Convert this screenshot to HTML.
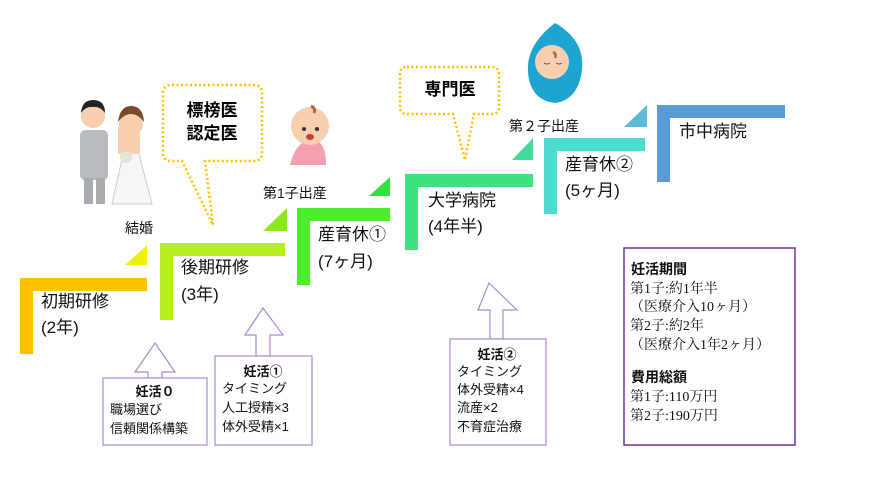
<!DOCTYPE html>
<html><head><meta charset="utf-8"><style>
body{margin:0;background:#fff;}
svg{display:block;font-family:"Liberation Sans","Noto Sans CJK JP",sans-serif;}
</style></head><body>
<svg width="887" height="499" viewBox="0 0 887 499" xmlns="http://www.w3.org/2000/svg">
<rect width="887" height="499" fill="#fff"/>
<!-- steps -->
<path d="M20,278H147V291H33V354H20Z" fill="#FFC000"/>
<polygon points="125,265 147,245 147,265" fill="#F0F010"/>
<path d="M160,243H285V256H173V320H160Z" fill="#B4F01E"/>
<polygon points="263,231 287,208 287,231" fill="#8CE81E"/>
<path d="M297,208H390V221H310V285H297Z" fill="#4CEB2C"/>
<polygon points="369,196 390,177 390,196" fill="#34E040"/>
<path d="M405,174H533V187H418V250H405Z" fill="#3DE27F"/>
<polygon points="512,160 533,138 533,160" fill="#40DCA0"/>
<path d="M544,138H645V151H557V214H544Z" fill="#4DDDD0"/>
<polygon points="624,127 647,105 647,127" fill="#5BBBD5"/>
<path d="M657,105H785V118H670V182H657Z" fill="#5B9BD5"/>
<g font-size="17" fill="#111">
<text x="41" y="307">初期研修</text><text x="41" y="333">(2年)</text>
<text x="181" y="273">後期研修</text><text x="181" y="300">(3年)</text>
<text x="318" y="240">産育休①</text><text x="318" y="267">(7ヶ月)</text>
<text x="428" y="206">大学病院</text><text x="428" y="232">(4年半)</text>
<text x="565" y="170">産育休②</text><text x="565" y="196">(5ヶ月)</text>
<text x="679" y="137">市中病院</text>
</g>
<g font-size="14" fill="#111">
<text x="125" y="233">結婚</text>
<text x="263" y="198">第1子出産</text>
<text x="509" y="131">第２子出産</text>
</g>
<!-- callouts -->
<path d="M172,85H254Q262,85 262,93V153Q262,161 254,161H205L213,225L182,161H171Q163,161 163,153V93Q163,85 172,85Z" fill="#fff" stroke="#FFC000" stroke-width="2.5" stroke-dasharray="2,2.5"/>
<text x="212" y="116" font-size="17" font-weight="bold" text-anchor="middle">標榜医</text>
<text x="212" y="139" font-size="17" font-weight="bold" text-anchor="middle">認定医</text>
<path d="M407,67H492Q499,67 499,74V107Q499,114 492,114H474L465,160L453,114H407Q400,114 400,107V74Q400,67 407,67Z" fill="#fff" stroke="#FFC000" stroke-width="2.5" stroke-dasharray="2,2.5"/>
<text x="450" y="95" font-size="17" font-weight="bold" text-anchor="middle">専門医</text>
<!-- purple arrows & boxes -->
<g fill="#fff" stroke="#A98BD0" stroke-width="1.2">
<path d="M155,343L175,372H162V378H148V372H135Z"/>
<rect x="103" y="378" width="104" height="67"/>
<path d="M263,308L283,335H270V356H256V335H245Z"/>
<rect x="215" y="356" width="97" height="89"/>
<path d="M490,283L518,310H504V339H491V310H479Z" transform="translate(-1,0)"/>
<rect x="450" y="339" width="96" height="106"/>
</g>
<rect x="624" y="248" width="171" height="197" fill="#fff" stroke="#7030A0" stroke-width="1.5"/>
<g font-size="13" fill="#111">
<text x="155" y="396" font-weight="bold" text-anchor="middle">妊活０</text>
<text x="110" y="414">職場選び</text><text x="110" y="433">信頼関係構築</text>
<text x="263" y="376" font-weight="bold" text-anchor="middle">妊活①</text>
<text x="222" y="393">タイミング</text><text x="222" y="412">人工授精×3</text><text x="222" y="431">体外受精×1</text>
<text x="497" y="359" font-weight="bold" text-anchor="middle">妊活②</text>
<text x="457" y="376">タイミング</text><text x="457" y="394">体外受精×4</text><text x="457" y="412">流産×2</text><text x="457" y="431">不育症治療</text>
</g>
<g font-size="14" fill="#111" font-family="Liberation Serif,Noto Serif CJK SC,serif">
<text x="631" y="274" font-weight="bold" font-family="Liberation Sans,Noto Sans CJK JP,sans-serif">妊活期間</text>
<text x="630" y="293">第1子:約1年半</text>
<text x="630" y="311">（医療介入10ヶ月）</text>
<text x="630" y="330">第2子:約2年</text>
<text x="630" y="349">（医療介入1年2ヶ月）</text>
<text x="631" y="382" font-weight="bold" font-family="Liberation Sans,Noto Sans CJK JP,sans-serif">費用総額</text>
<text x="630" y="401">第1子:110万円</text>
<text x="630" y="420">第2子:190万円</text>
</g>
<!-- couple -->
<g>
<rect x="80" y="130" width="28" height="50" rx="5" fill="#B8BCC0"/>
<rect x="84" y="178" width="9" height="26" fill="#A8ACB0"/><rect x="96" y="178" width="9" height="26" fill="#A8ACB0"/>
<circle cx="93" cy="116" r="12" fill="#F8D0B0"/><path d="M81,113Q82,100 93,100Q105,100 105,113Q100,106 93,107Q86,106 81,113Z" fill="#222"/>
<path d="M112,204L124,150H138L152,204Z" fill="#F4F6F8" stroke="#C8CCD0"/>
<rect x="118" y="126" width="22" height="28" fill="#F8D0B0"/>
<circle cx="131" cy="124" r="12" fill="#F8D0B0"/><path d="M118,122Q120,106 131,106Q143,106 144,122Q138,114 131,114Q124,114 118,122Z" fill="#7A4A2A"/>
<circle cx="126" cy="157" r="6" fill="#DDE8D0"/>
</g>
<!-- pink baby -->
<g>
<path d="M290,165Q296,140 312,140Q326,140 326,165Z" fill="#F2A0B0"/>
<circle cx="310" cy="126" r="19" fill="#F8D0B0"/>
<circle cx="304" cy="129" r="2" fill="#333"/><circle cx="317" cy="129" r="2" fill="#333"/>
<ellipse cx="310" cy="137" rx="4" ry="3" fill="#C04040"/>
<path d="M311,106q5,2 3,7" stroke="#A56A48" stroke-width="3" fill="none"/>
</g>
<!-- blue baby -->
<g>
<path d="M555,23Q585,40 582,70Q578,100 555,103Q530,100 528,72Q526,45 555,23Z" fill="#1CA5D0"/>
<circle cx="552" cy="62" r="17" fill="#F8D0B0"/>
<path d="M544,63q3,2 6,0M556,63q3,2 6,0" stroke="#555" fill="none"/>
<path d="M553,52q4,2 2,6" stroke="#A56A48" stroke-width="2.5" fill="none"/>
</g>
</svg>
</body></html>
